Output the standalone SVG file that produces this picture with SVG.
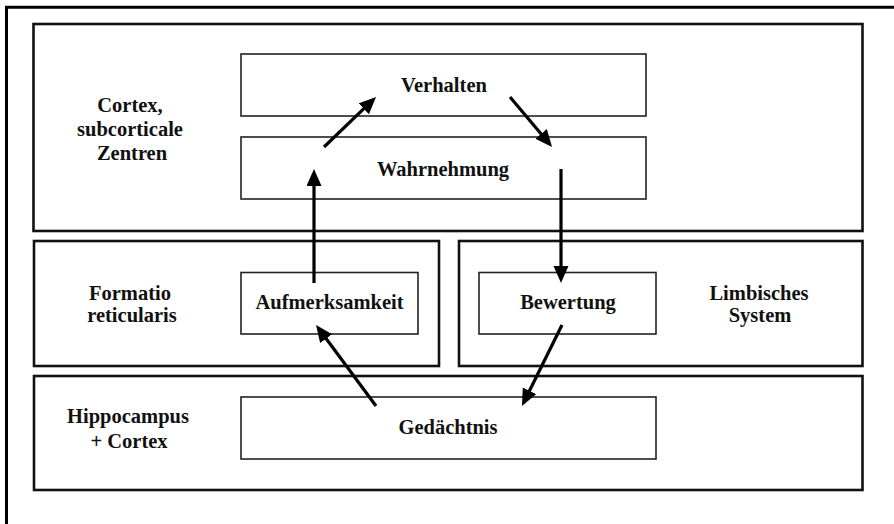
<svg xmlns="http://www.w3.org/2000/svg" width="894" height="524" viewBox="0 0 894 524">
<defs>
<style>
.frame{fill:none;stroke:#000;stroke-width:3}
.region{fill:#fff;stroke:#111;stroke-width:2.6}
.node{fill:#fff;stroke:#222;stroke-width:1.6}
.t{font-family:"Liberation Serif","Times New Roman",serif;font-weight:bold;font-size:20.5px;fill:#111;text-anchor:middle}
.arr{stroke:#000;stroke-width:3.2;fill:none;marker-end:url(#ah)}
</style>
<marker id="ah" markerUnits="userSpaceOnUse" markerWidth="20" markerHeight="18" refX="7" refY="7.5" orient="auto">
<path d="M0,0 L17,7.5 L0,15 Z" fill="#000"/>
</marker>
</defs>
<rect width="894" height="524" fill="#fff"/>
<path class="frame" d="M6.5,524 V7.3 H894"/>

<g id="region-cortex">
<rect class="region" x="33.5" y="24" width="829" height="207"/>
<text class="t" x="130" y="112">Cortex,</text>
<text class="t" x="130" y="136">subcorticale</text>
<text class="t" x="132" y="160">Zentren</text>
</g>
<g id="region-formatio">
<rect class="region" x="34" y="241" width="405" height="125"/>
<text class="t" x="130" y="300">Formatio</text>
<text class="t" x="132" y="322">reticularis</text>
</g>
<g id="region-limbisch">
<rect class="region" x="459" y="241" width="403.5" height="125"/>
<text class="t" x="759" y="300">Limbisches</text>
<text class="t" x="760" y="322">System</text>
</g>
<g id="region-hippocampus">
<rect class="region" x="34" y="376" width="828.5" height="114"/>
<text class="t" x="128" y="423">Hippocampus</text>
<text class="t" x="129" y="448">+ Cortex</text>
</g>

<g id="node-verhalten">
<rect class="node" x="241" y="54" width="405" height="62"/>
<text class="t" x="444" y="92">Verhalten</text>
</g>
<g id="node-wahrnehmung">
<rect class="node" x="241" y="137" width="405" height="62"/>
<text class="t" x="443" y="176">Wahrnehmung</text>
</g>
<g id="node-aufmerksamkeit">
<rect class="node" x="241" y="272.5" width="177" height="61.5"/>
<text class="t" x="329.5" y="309">Aufmerksamkeit</text>
</g>
<g id="node-bewertung">
<rect class="node" x="479" y="272.5" width="177" height="61.5"/>
<text class="t" x="568" y="309">Bewertung</text>
</g>
<g id="node-gedaechtnis">
<rect class="node" x="241" y="397" width="415" height="62"/>
<text class="t" x="448" y="434">Gedächtnis</text>
</g>

<g id="connectors">
<line class="arr" x1="324" y1="147" x2="368.8" y2="103.9"/>
<line class="arr" x1="510" y1="97" x2="545.6" y2="139.3"/>
<line class="arr" x1="314" y1="283" x2="314" y2="179"/>
<line class="arr" x1="561" y1="169" x2="561" y2="273"/>
<line class="arr" x1="376" y1="406" x2="322" y2="333"/>
<line class="arr" x1="562" y1="325" x2="526.4" y2="397"/>
</g>
</svg>
